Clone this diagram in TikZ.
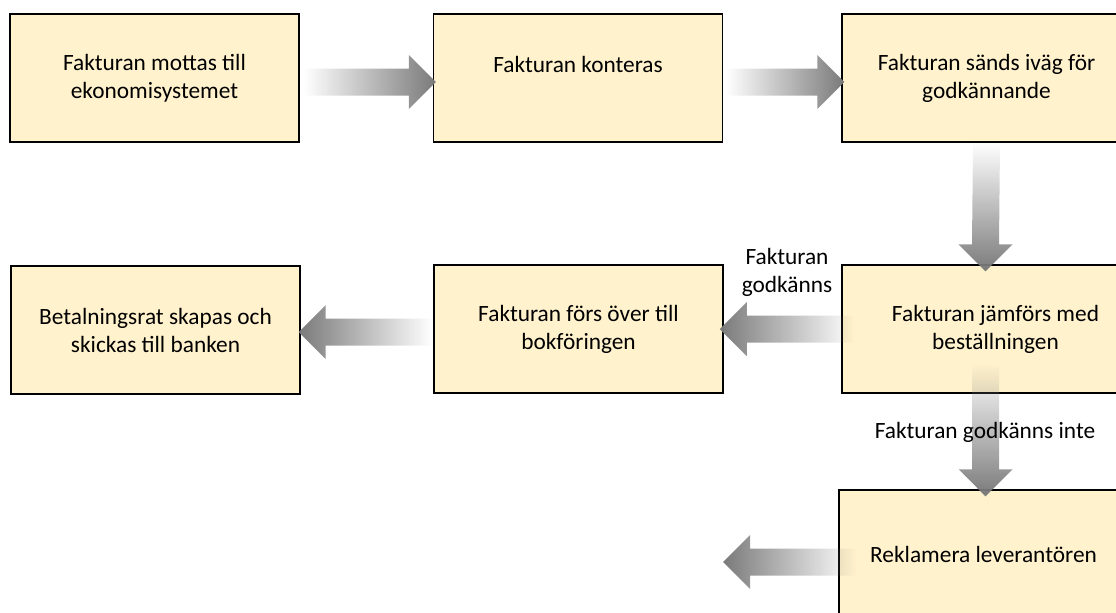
\documentclass[tikz,border=0pt]{standalone}
\usepackage{fontspec}
\setmainfont{Carlito}
\usetikzlibrary{calc, fadings}

\definecolor{boxfill}{HTML}{FFF2CC}
\definecolor{arrowgray}{HTML}{7A7A7A}

\tikzfading[name=FadeRight, left color=transparent!100, right color=transparent!0]
\tikzfading[name=FadeLeft, left color=transparent!0, right color=transparent!100]
\tikzfading[name=FadeDown, top color=transparent!100, bottom color=transparent!0]

% fat faded arrows, tail -> tip
\newcommand{\ArrowRight}[2]{%
  \fill[arrowgray, path fading=FadeRight]
    ($(#1)+(0,-13.5)$) -- ($(#2)+(-27,-13.5)$) -- ($(#2)+(-27,-27)$) -- (#2)
    -- ($(#2)+(-27,27)$) -- ($(#2)+(-27,13.5)$) -- ($(#1)+(0,13.5)$) -- cycle;}
\newcommand{\ArrowLeft}[2]{%
  \fill[arrowgray, path fading=FadeLeft]
    ($(#1)+(0,-13.5)$) -- ($(#2)+(27,-13.5)$) -- ($(#2)+(27,-27)$) -- (#2)
    -- ($(#2)+(27,27)$) -- ($(#2)+(27,13.5)$) -- ($(#1)+(0,13.5)$) -- cycle;}
\newcommand{\ArrowDown}[2]{%
  \fill[arrowgray, path fading=FadeDown]
    ($(#1)+(-13.5,0)$) -- ($(#2)+(-13.5,-27)$) -- ($(#2)+(-27,-27)$) -- (#2)
    -- ($(#2)+(27,-27)$) -- ($(#2)+(13.5,-27)$) -- ($(#1)+(13.5,0)$) -- cycle;}

\begin{document}
\begin{tikzpicture}[x=0.75pt, y=-0.75pt]
\tikzset{BoxStyle/.style = {draw, fill= boxfill, line width= 1.1pt, align= center,
    minimum width= 216.75pt, minimum height= 96pt, font= \fontsize{17.5}{21}\selectfont},
  LabelStyle/.style = {align= center, font= \fontsize{17.5}{21}\selectfont}
}

    \useasboundingbox (0,0) rectangle (1116,612);
    \clip (0,0) rectangle (1116,612);

    % Draw boxes
    \node[BoxStyle] (recv)    at (154.5,78)  {Fakturan mottas till\\ekonomisystemet};
    \node[BoxStyle] (kont)    at (578,78)    {Fakturan konteras\\\mbox{}};
    \node[BoxStyle] (send)    at (986.5,78)  {Fakturan sänds iväg för\\godkännande};

    \node[BoxStyle] (pay)     at (155.5,330) {Betalningsrat skapas och\\skickas till banken};
    \node[BoxStyle] (book)    at (578.5,329) {Fakturan förs över till\\bokföringen};
    \node[BoxStyle] (comp)    at (986.5,329) {\hspace*{13.5pt}Fakturan jämförs med\\\hspace*{13.5pt}beställningen};

    \node[BoxStyle] (claim)   at (983.5,554) {Reklamera leverantören};

    % Draw arrows
    \coordinate (a1s) at ($(recv.east)+(4,4)$);
    \coordinate (a1e) at ($(kont.west)+(3,4)$);
    \coordinate (a2s) at ($(kont.east)+(3,4)$);
    \coordinate (a2e) at ($(send.west)+(3,4)$);
    \coordinate (a3s) at (send.south);
    \coordinate (a3e) at ($(comp.north)+(-1,7)$);
    \coordinate (a4s) at ($(comp.west)+(13,0)$);
    \coordinate (a4e) at ($(book.east)+(-4,0)$);
    \coordinate (a5s) at ($(book.west)+(-1,3)$);
    \coordinate (a5e) at ($(pay.east)+(-2,2)$);
    \coordinate (a6s) at ($(comp.south)+(-1,-30)$);
    \coordinate (a6e) at ($(claim.north)+(2,7)$);
    \coordinate (a7s) at ($(claim.west)+(18,8)$);
    \coordinate (a7e) at (723,562);

    \ArrowRight{a1s}{a1e}
    \ArrowRight{a2s}{a2e}
    \ArrowDown{a3s}{a3e}
    \ArrowLeft{a4s}{a4e}
    \ArrowLeft{a5s}{a5e}
    \ArrowDown{a6s}{a6e}
    \ArrowLeft{a7s}{a7e}

    % Draw labels
    \node[LabelStyle] (yes) at (787,272) {Fakturan\\godkänns};
    \node[LabelStyle] (no)  at (985,432) {Fakturan godkänns inte};
\end{tikzpicture}
\end{document}
